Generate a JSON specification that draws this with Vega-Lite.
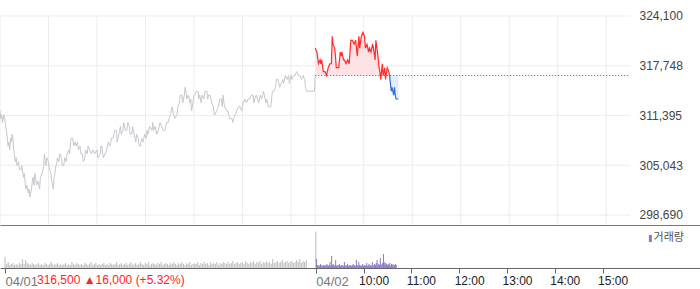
{
  "$schema": "https://vega.github.io/schema/vega-lite/v6.json",
  "padding": 0,
  "spacing": 0,
  "bounds": "flush",
  "background": "white",
  "config": {"view": {"stroke": null}, "font": "Liberation Sans"},
  "datasets": {
    "prev": [
      {"t":0,"v":312000},{"t":1,"v":311000},{"t":2,"v":311500},{"t":3,"v":310500},{"t":5,"v":311500},{"t":6,"v":311000},{"t":7,"v":310000},{"t":8,"v":309500},{"t":9,"v":308500},{"t":10,"v":307500},{"t":11,"v":308000},{"t":12,"v":307000},{"t":13,"v":308500},{"t":14,"v":308000},{"t":15,"v":309000},{"t":16,"v":308500},{"t":17,"v":307000},{"t":19,"v":305500},{"t":20,"v":306000},{"t":21,"v":305000},{"t":23,"v":305500},{"t":24,"v":304500},{"t":26,"v":304500},{"t":27,"v":305000},{"t":29,"v":303500},{"t":30,"v":304000},{"t":31,"v":303000},{"t":32,"v":302000},{"t":33,"v":302500},{"t":35,"v":301500},{"t":36,"v":302000},{"t":37,"v":301000},{"t":38,"v":301500},{"t":39,"v":302000},{"t":40,"v":303000},{"t":41,"v":303500},{"t":42,"v":302500},{"t":43,"v":304000},{"t":44,"v":303500},{"t":45,"v":302500},{"t":47,"v":303000},{"t":49,"v":302000},{"t":50,"v":303500},{"t":52,"v":304000},{"t":54,"v":305000},{"t":55,"v":306500},{"t":56,"v":305500},{"t":57,"v":305000},{"t":58,"v":306000},{"t":60,"v":305500},{"t":61,"v":304500},{"t":63,"v":304000},{"t":64,"v":303000},{"t":66,"v":302000},{"t":67,"v":303500},{"t":68,"v":304000},{"t":69,"v":305000},{"t":70,"v":305000},{"t":71,"v":306000},{"t":73,"v":305500},{"t":74,"v":306500},{"t":76,"v":306000},{"t":77,"v":305000},{"t":79,"v":305000},{"t":80,"v":306000},{"t":82,"v":305500},{"t":83,"v":306500},{"t":85,"v":307000},{"t":86,"v":306500},{"t":87,"v":307500},{"t":88,"v":308500},{"t":90,"v":308500},{"t":91,"v":307500},{"t":93,"v":308000},{"t":94,"v":307500},{"t":96,"v":308000},{"t":97,"v":307000},{"t":99,"v":307500},{"t":100,"v":306500},{"t":102,"v":306500},{"t":103,"v":305500},{"t":105,"v":306000},{"t":106,"v":307000},{"t":108,"v":306500},{"t":109,"v":307500},{"t":111,"v":307000},{"t":113,"v":306500},{"t":115,"v":307000},{"t":117,"v":306500},{"t":120,"v":307000},{"t":121,"v":306000},{"t":124,"v":306500},{"t":125,"v":307500},{"t":126,"v":307500},{"t":127,"v":306500},{"t":128,"v":306000},{"t":130,"v":306500},{"t":132,"v":307000},{"t":134,"v":308000},{"t":136,"v":307500},{"t":138,"v":308500},{"t":140,"v":308500},{"t":142,"v":309500},{"t":144,"v":309500},{"t":145,"v":308000},{"t":146,"v":308500},{"t":148,"v":309500},{"t":149,"v":310000},{"t":150,"v":309000},{"t":152,"v":309500},{"t":153,"v":310500},{"t":155,"v":309500},{"t":157,"v":309500},{"t":158,"v":310500},{"t":160,"v":310000},{"t":161,"v":309000},{"t":163,"v":309000},{"t":164,"v":310000},{"t":165,"v":309500},{"t":167,"v":308500},{"t":168,"v":308000},{"t":169,"v":309000},{"t":171,"v":308500},{"t":172,"v":307500},{"t":174,"v":307500},{"t":175,"v":308500},{"t":177,"v":308000},{"t":179,"v":309000},{"t":181,"v":308500},{"t":182,"v":309500},{"t":183,"v":309000},{"t":185,"v":310000},{"t":188,"v":309500},{"t":189,"v":310500},{"t":190,"v":309500},{"t":192,"v":310000},{"t":194,"v":309000},{"t":196,"v":309500},{"t":198,"v":310500},{"t":200,"v":310000},{"t":202,"v":309500},{"t":204,"v":309500},{"t":206,"v":310500},{"t":208,"v":310500},{"t":209,"v":311000},{"t":211,"v":311500},{"t":213,"v":312500},{"t":214,"v":312000},{"t":216,"v":311000},{"t":219,"v":311500},{"t":220,"v":312500},{"t":222,"v":313000},{"t":223,"v":314000},{"t":225,"v":314000},{"t":226,"v":313000},{"t":228,"v":314000},{"t":229,"v":315000},{"t":230,"v":314500},{"t":231,"v":313500},{"t":233,"v":314000},{"t":235,"v":313000},{"t":236,"v":313500},{"t":237,"v":312000},{"t":238,"v":312500},{"t":240,"v":314000},{"t":241,"v":314000},{"t":243,"v":314500},{"t":245,"v":314500},{"t":246,"v":313500},{"t":247,"v":314000},{"t":249,"v":313000},{"t":250,"v":314000},{"t":252,"v":313500},{"t":254,"v":314500},{"t":256,"v":314500},{"t":257,"v":313500},{"t":258,"v":314000},{"t":260,"v":314000},{"t":262,"v":313000},{"t":264,"v":312500},{"t":265,"v":311500},{"t":266,"v":311500},{"t":268,"v":312000},{"t":270,"v":312500},{"t":272,"v":313500},{"t":274,"v":313500},{"t":275,"v":312500},{"t":276,"v":314000},{"t":277,"v":313000},{"t":278,"v":312500},{"t":280,"v":312000},{"t":282,"v":312000},{"t":284,"v":311000},{"t":287,"v":311000},{"t":288,"v":310500},{"t":289,"v":311000},{"t":291,"v":311500},{"t":293,"v":312000},{"t":295,"v":312500},{"t":297,"v":312500},{"t":299,"v":312000},{"t":301,"v":313000},{"t":303,"v":313500},{"t":305,"v":313000},{"t":307,"v":313500},{"t":309,"v":313500},{"t":311,"v":314000},{"t":313,"v":314000},{"t":314,"v":313000},{"t":315,"v":313500},{"t":317,"v":314000},{"t":320,"v":313000},{"t":322,"v":314000},{"t":324,"v":313500},{"t":326,"v":314500},{"t":327,"v":314000},{"t":329,"v":313000},{"t":330,"v":313500},{"t":332,"v":312500},{"t":335,"v":312500},{"t":336,"v":313500},{"t":337,"v":314500},{"t":339,"v":314500},{"t":341,"v":315000},{"t":342,"v":316000},{"t":344,"v":316000},{"t":346,"v":315000},{"t":348,"v":315500},{"t":350,"v":316000},{"t":351,"v":315500},{"t":353,"v":316500},{"t":355,"v":316000},{"t":357,"v":316500},{"t":358,"v":315500},{"t":360,"v":316500},{"t":361,"v":316000},{"t":363,"v":316500},{"t":365,"v":316500},{"t":367,"v":317000},{"t":369,"v":316500},{"t":371,"v":316500},{"t":373,"v":316000},{"t":375,"v":316500},{"t":377,"v":316000},{"t":378,"v":315000},{"t":379,"v":314500},{"t":389,"v":314500},{"t":390,"v":316500}
    ],
    "up": [
      {"t":390,"v":320000},{"t":392,"v":319500},{"t":394,"v":318000},{"t":396,"v":318500},{"t":397,"v":318000},{"t":398,"v":318500},{"t":400,"v":317000},{"t":402,"v":317000},{"t":404,"v":316500},{"t":406,"v":317500},{"t":408,"v":318000},{"t":410,"v":318000},{"t":411,"v":321500},{"t":412,"v":320500},{"t":414,"v":320000},{"t":415,"v":319000},{"t":416,"v":317500},{"t":419,"v":317500},{"t":421,"v":319500},{"t":422,"v":319000},{"t":423,"v":319500},{"t":425,"v":318500},{"t":426,"v":318500},{"t":428,"v":318000},{"t":430,"v":318500},{"t":432,"v":318000},{"t":434,"v":321000},{"t":436,"v":321000},{"t":438,"v":320500},{"t":440,"v":321000},{"t":442,"v":319000},{"t":444,"v":321500},{"t":445,"v":320000},{"t":447,"v":321500},{"t":449,"v":322000},{"t":451,"v":321500},{"t":452,"v":320000},{"t":454,"v":320500},{"t":456,"v":319500},{"t":457,"v":320000},{"t":459,"v":319500},{"t":461,"v":320500},{"t":462,"v":320000},{"t":464,"v":318500},{"t":465,"v":321000},{"t":467,"v":319500},{"t":469,"v":317500},{"t":470,"v":317000},{"t":471,"v":316000},{"t":473,"v":318000},{"t":474,"v":316500},{"t":476,"v":317500},{"t":477,"v":316000},{"t":479,"v":317500},{"t":481,"v":317000},{"t":482,"v":316500}
    ],
    "down": [
      {"t":482,"v":316500},{"t":483,"v":315500},{"t":484,"v":314500},{"t":485,"v":315000},{"t":487,"v":314000},{"t":488,"v":315000},{"t":489,"v":314000},{"t":490,"v":313500},{"t":493,"v":313500}
    ],
    "vgrid": [{"t":0},{"t":60},{"t":120},{"t":180},{"t":240},{"t":300},{"t":360},{"t":390},{"t":450},{"t":510},{"t":570},{"t":630},{"t":690},{"t":750}],
    "hgrid": [{"p":298690},{"p":305043},{"p":311395},{"p":317748},{"p":324100}],
    "volPrev": [
      {"t":0,"q":11000},{"t":2,"q":4000},{"t":4,"q":6000},{"t":6,"q":3000},{"t":8,"q":4000},{"t":10,"q":5000},{"t":12,"q":3000},{"t":14,"q":4000},{"t":16,"q":3000},{"t":18,"q":5000},{"t":20,"q":4000},{"t":22,"q":9000},{"t":24,"q":4000},{"t":26,"q":8000},{"t":28,"q":5000},{"t":30,"q":4000},{"t":32,"q":3000},{"t":34,"q":5000},{"t":36,"q":4000},{"t":38,"q":3000},{"t":40,"q":4000},{"t":42,"q":5000},{"t":44,"q":3000},{"t":46,"q":4000},{"t":48,"q":3000},{"t":50,"q":5000},{"t":52,"q":4000},{"t":54,"q":3000},{"t":56,"q":4000},{"t":58,"q":6000},{"t":60,"q":4000},{"t":62,"q":3000},{"t":64,"q":4000},{"t":66,"q":5000},{"t":68,"q":3000},{"t":70,"q":4000},{"t":72,"q":3000},{"t":74,"q":4000},{"t":76,"q":5000},{"t":78,"q":3000},{"t":80,"q":4000},{"t":82,"q":3000},{"t":84,"q":6000},{"t":86,"q":4000},{"t":88,"q":3000},{"t":90,"q":5000},{"t":92,"q":4000},{"t":94,"q":3000},{"t":96,"q":4000},{"t":98,"q":3000},{"t":100,"q":5000},{"t":102,"q":4000},{"t":104,"q":3000},{"t":106,"q":4000},{"t":108,"q":6000},{"t":110,"q":3000},{"t":112,"q":4000},{"t":114,"q":5000},{"t":116,"q":3000},{"t":118,"q":4000},{"t":120,"q":3000},{"t":122,"q":4000},{"t":124,"q":5000},{"t":126,"q":3000},{"t":128,"q":4000},{"t":130,"q":3000},{"t":132,"q":5000},{"t":134,"q":4000},{"t":136,"q":3000},{"t":138,"q":4000},{"t":140,"q":6000},{"t":142,"q":3000},{"t":144,"q":4000},{"t":146,"q":5000},{"t":148,"q":3000},{"t":150,"q":4000},{"t":152,"q":5000},{"t":154,"q":3000},{"t":156,"q":4000},{"t":158,"q":6000},{"t":160,"q":3000},{"t":162,"q":4000},{"t":164,"q":5000},{"t":166,"q":3000},{"t":168,"q":4000},{"t":170,"q":6000},{"t":172,"q":4000},{"t":174,"q":3000},{"t":176,"q":5000},{"t":178,"q":4000},{"t":180,"q":6000},{"t":182,"q":3000},{"t":184,"q":4000},{"t":186,"q":5000},{"t":188,"q":4000},{"t":190,"q":3000},{"t":192,"q":5000},{"t":194,"q":4000},{"t":196,"q":6000},{"t":198,"q":3000},{"t":200,"q":4000},{"t":202,"q":5000},{"t":204,"q":4000},{"t":206,"q":3000},{"t":208,"q":5000},{"t":210,"q":4000},{"t":212,"q":6000},{"t":214,"q":4000},{"t":216,"q":3000},{"t":218,"q":5000},{"t":220,"q":4000},{"t":222,"q":6000},{"t":224,"q":4000},{"t":226,"q":3000},{"t":228,"q":5000},{"t":230,"q":4000},{"t":232,"q":6000},{"t":234,"q":3000},{"t":236,"q":4000},{"t":238,"q":5000},{"t":240,"q":4000},{"t":242,"q":6000},{"t":244,"q":3000},{"t":246,"q":5000},{"t":248,"q":4000},{"t":250,"q":6000},{"t":252,"q":4000},{"t":254,"q":5000},{"t":256,"q":3000},{"t":258,"q":6000},{"t":260,"q":4000},{"t":262,"q":5000},{"t":264,"q":4000},{"t":266,"q":6000},{"t":268,"q":3000},{"t":270,"q":5000},{"t":272,"q":4000},{"t":274,"q":6000},{"t":276,"q":5000},{"t":278,"q":4000},{"t":280,"q":6000},{"t":282,"q":4000},{"t":284,"q":5000},{"t":286,"q":7000},{"t":288,"q":4000},{"t":290,"q":5000},{"t":292,"q":6000},{"t":294,"q":4000},{"t":296,"q":5000},{"t":298,"q":6000},{"t":300,"q":4000},{"t":302,"q":7000},{"t":304,"q":5000},{"t":306,"q":4000},{"t":308,"q":6000},{"t":310,"q":5000},{"t":312,"q":7000},{"t":314,"q":4000},{"t":316,"q":6000},{"t":318,"q":5000},{"t":320,"q":7000},{"t":322,"q":4000},{"t":324,"q":6000},{"t":326,"q":5000},{"t":328,"q":7000},{"t":330,"q":5000},{"t":332,"q":6000},{"t":334,"q":4000},{"t":336,"q":9000},{"t":338,"q":5000},{"t":340,"q":6000},{"t":342,"q":7000},{"t":344,"q":5000},{"t":346,"q":6000},{"t":348,"q":8000},{"t":350,"q":5000},{"t":352,"q":6000},{"t":354,"q":7000},{"t":356,"q":5000},{"t":358,"q":6000},{"t":360,"q":7000},{"t":362,"q":5000},{"t":364,"q":6000},{"t":366,"q":8000},{"t":368,"q":6000},{"t":370,"q":9000},{"t":372,"q":5000},{"t":374,"q":7000},{"t":376,"q":6000},{"t":378,"q":8000},{"t":390,"q":36600}
    ],
    "volToday": [
      {"t":391,"q":9000},{"t":392,"q":3000},{"t":393,"q":2000},{"t":394,"q":3000},{"t":395,"q":2000},{"t":396,"q":4000},{"t":397,"q":2000},{"t":398,"q":3000},{"t":399,"q":2000},{"t":400,"q":3000},{"t":401,"q":2000},{"t":402,"q":3000},{"t":403,"q":2000},{"t":404,"q":4000},{"t":405,"q":3000},{"t":406,"q":2000},{"t":407,"q":3000},{"t":408,"q":6000},{"t":409,"q":2000},{"t":410,"q":12000},{"t":411,"q":3000},{"t":412,"q":4000},{"t":413,"q":2000},{"t":414,"q":3000},{"t":415,"q":8000},{"t":416,"q":2000},{"t":417,"q":3000},{"t":418,"q":2000},{"t":419,"q":3000},{"t":420,"q":4000},{"t":421,"q":2000},{"t":422,"q":3000},{"t":423,"q":2000},{"t":424,"q":3000},{"t":425,"q":2000},{"t":426,"q":6000},{"t":427,"q":2000},{"t":428,"q":3000},{"t":429,"q":2000},{"t":430,"q":4000},{"t":431,"q":2000},{"t":432,"q":3000},{"t":433,"q":2000},{"t":434,"q":3000},{"t":435,"q":2000},{"t":436,"q":3000},{"t":437,"q":4000},{"t":438,"q":2000},{"t":439,"q":3000},{"t":440,"q":2000},{"t":441,"q":8000},{"t":442,"q":3000},{"t":443,"q":2000},{"t":444,"q":6000},{"t":445,"q":3000},{"t":446,"q":2000},{"t":447,"q":3000},{"t":448,"q":2000},{"t":449,"q":4000},{"t":450,"q":2000},{"t":451,"q":3000},{"t":452,"q":2000},{"t":453,"q":3000},{"t":454,"q":5000},{"t":455,"q":2000},{"t":456,"q":3000},{"t":457,"q":4000},{"t":458,"q":2000},{"t":459,"q":3000},{"t":460,"q":2000},{"t":461,"q":6000},{"t":462,"q":3000},{"t":463,"q":2000},{"t":464,"q":4000},{"t":465,"q":3000},{"t":466,"q":5000},{"t":467,"q":8000},{"t":468,"q":3000},{"t":469,"q":4000},{"t":470,"q":3000},{"t":471,"q":10000},{"t":472,"q":4000},{"t":473,"q":3000},{"t":474,"q":5000},{"t":475,"q":14000},{"t":476,"q":6000},{"t":477,"q":3000},{"t":478,"q":5000},{"t":479,"q":4000},{"t":480,"q":3000},{"t":481,"q":4000},{"t":482,"q":3000},{"t":483,"q":5000},{"t":484,"q":2000},{"t":485,"q":4000},{"t":486,"q":3000},{"t":487,"q":4000},{"t":488,"q":2000},{"t":489,"q":3000},{"t":490,"q":4000},{"t":491,"q":3000}
    ],
    "info": [{"label":"316,500 ▲16,000 (+5.32%)","legend":"거래량"}]
  },
  "vconcat": [
    {
      "width": 700,
      "height": 225,
      "layer": [
        {
          "data": {"name": "vgrid"},
          "mark": {"type": "rule", "color": "#ececec", "strokeWidth": 1, "clip": true},
          "encoding": {
            "x": {"field": "t", "type": "quantitative", "scale": {"domain": [0, 866], "nice": false, "zero": false},
                  "axis": {"labels": false, "ticks": false, "grid": false, "domain": true, "domainColor": "#777", "title": null}},
            "y": {"datum": 324100, "type": "quantitative", "scale": {"domain": [297413, 326143], "nice": false, "zero": false},
                  "axis": {"orient": "right", "offset": -61, "values": [298690, 305043, 311395, 317748, 324100], "labelExpr": "format(datum.value, ',d')", "grid": false, "ticks": false, "domain": false, "labelPadding": 0, "labelAlign": "left", "labelFontSize": 12, "labelColor": "#444", "labelFont": "Liberation Sans", "title": null}},
            "y2": {"datum": 297413}
          }
        },
        {
          "data": {"name": "hgrid"},
          "mark": {"type": "rule", "color": "#ececec", "strokeWidth": 1, "clip": true},
          "encoding": {
            "y": {"field": "p", "type": "quantitative", "title": null},
            "x": {"datum": 0, "type": "quantitative", "title": null},
            "x2": {"datum": 780}
          }
        },
        {
          "data": {"name": "up"},
          "mark": {"type": "area", "color": "#fde3e5", "opacity": 1, "clip": true},
          "encoding": {
            "x": {"field": "t", "type": "quantitative", "title": null},
            "y": {"field": "v", "type": "quantitative", "title": null},
            "y2": {"datum": 316500}
          }
        },
        {
          "data": {"name": "down"},
          "mark": {"type": "area", "color": "#e2ecfa", "opacity": 1, "clip": true},
          "encoding": {
            "x": {"field": "t", "type": "quantitative", "title": null},
            "y": {"field": "v", "type": "quantitative", "title": null},
            "y2": {"datum": 316500}
          }
        },
        {
          "data": {"name": "prev"},
          "mark": {"type": "line", "color": "#c6c8ce", "strokeWidth": 1, "clip": true},
          "encoding": {
            "x": {"field": "t", "type": "quantitative", "title": null},
            "y": {"field": "v", "type": "quantitative", "title": null}
          }
        },
        {
          "data": {"name": "up"},
          "mark": {"type": "line", "color": "#ff2a2a", "strokeWidth": 1.2, "clip": true},
          "encoding": {
            "x": {"field": "t", "type": "quantitative", "title": null},
            "y": {"field": "v", "type": "quantitative", "title": null}
          }
        },
        {
          "data": {"name": "down"},
          "mark": {"type": "line", "color": "#2f6fd6", "strokeWidth": 1.2, "clip": true},
          "encoding": {
            "x": {"field": "t", "type": "quantitative", "title": null},
            "y": {"field": "v", "type": "quantitative", "title": null}
          }
        },
        {
          "data": {"values": [{}]},
          "mark": {"type": "rule", "color": "#555", "strokeWidth": 1, "strokeDash": [1, 2], "clip": true},
          "encoding": {
            "x": {"datum": 390, "type": "quantitative"},
            "x2": {"datum": 780},
            "y": {"datum": 316500, "type": "quantitative"}
          }
        }
      ]
    },
    {
      "width": 700,
      "height": 43,
      "layer": [
        {
          "data": {"name": "volPrev"},
          "mark": {"type": "bar", "color": "#c4c4c4", "width": 1.2, "clip": true},
          "encoding": {
            "x": {"field": "t", "type": "quantitative", "scale": {"domain": [0, 866], "nice": false, "zero": false},
                  "axis": {"values": [0, 390, 450, 510, 570, 630, 690, 750], "grid": false, "domainColor": "#666", "tickColor": "#666", "tickSize": 5,
                           "labelExpr": "datum.value == 0 ? '04/01' : datum.value == 390 ? '04/02' : ((datum.value - 390) / 60 + 9) + ':00'",
                           "labelAlign": "left", "labelBaseline": "top", "labelPadding": 2, "labelFont": "Liberation Sans",
                           "labelFontSize": {"condition": {"test": "datum.value <= 390", "value": 13}, "value": 12},
                           "labelColor": {"condition": {"test": "datum.value <= 390", "value": "#777"}, "value": "#222"},
                           "labelOffset": {"condition": {"test": "datum.value <= 390", "value": 0}, "value": -5},
                           "labelFlush": false, "labelOverlap": false, "title": null}},
            "y": {"field": "q", "type": "quantitative", "scale": {"domain": [0, 43000], "nice": false}, "axis": null}
          }
        },
        {
          "data": {"name": "volToday"},
          "mark": {"type": "bar", "color": "#8e78c6", "width": 1, "clip": true},
          "encoding": {
            "x": {"field": "t", "type": "quantitative", "title": null},
            "y": {"field": "q", "type": "quantitative"}
          }
        },
        {
          "data": {"name": "info"},
          "mark": {"type": "text", "align": "left", "baseline": "top", "dx": 32, "dy": 7, "fontSize": 12, "color": "#ff2424", "font": "Liberation Sans"},
          "encoding": {
            "x": {"datum": 0, "type": "quantitative"},
            "y": {"datum": 0, "type": "quantitative"},
            "text": {"field": "label"}
          }
        },
        {
          "data": {"name": "info"},
          "mark": {"type": "rule", "color": "#8e78c6", "strokeWidth": 3},
          "encoding": {
            "x": {"datum": 810, "type": "quantitative"},
            "y": {"datum": 26000, "type": "quantitative"},
            "y2": {"datum": 33000}
          }
        },
        {
          "data": {"name": "info"},
          "mark": {"type": "text", "align": "left", "baseline": "middle", "fontSize": 11, "color": "#555", "font": "Noto Sans CJK KR"},
          "encoding": {
            "x": {"datum": 814, "type": "quantitative"},
            "y": {"datum": 30000, "type": "quantitative"},
            "text": {"field": "legend"}
          }
        }
      ]
    }
  ]
}
